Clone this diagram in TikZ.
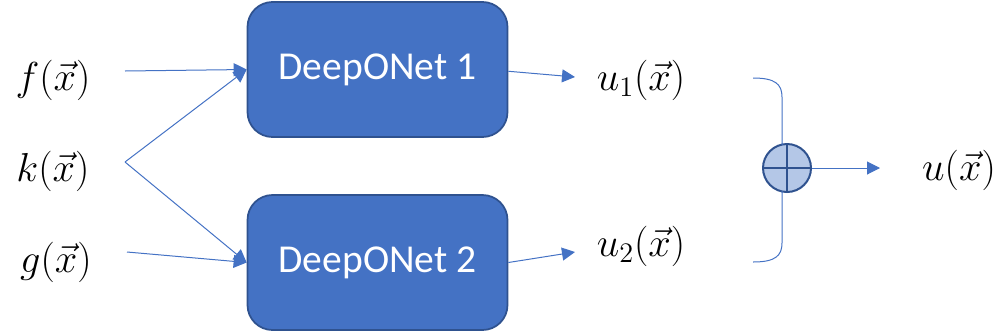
\RequirePackage{fix-cm}
\documentclass[tikz,border=0pt]{standalone}
\usepackage{amsmath}
\usepackage{fontspec}
\newfontfamily\boxfont{Carlito}
\usepackage{tikz}
\usetikzlibrary{calc}
\usetikzlibrary{arrows.meta}
\definecolor{netblue}{HTML}{4472C4}
\definecolor{netedge}{HTML}{2F528F}
\definecolor{sumfill}{HTML}{B4C7E7}

\begin{document}
\begin{tikzpicture}[x=0.2mm, y=-0.2mm,
    net/.style={draw=netedge, line width=0.35mm, fill=netblue, rounded corners=5mm,
        minimum width=52mm, minimum height=27mm, text=white,
        font=\boxfont\fontsize{22.5}{27}\selectfont},
    var/.style={font=\fontsize{23}{27}\selectfont, inner sep=0pt},
    arr/.style={draw=netblue, line width=0.2mm, -{Triangle[length=2.6mm, width=2.6mm]}},
    lien/.style={draw=netblue, line width=0.2mm}]
\useasboundingbox (0,0) rectangle (1002,335);

%%% entrees
\node[var] (f) at (53,80) {$f(\vec{x})$};
\node[var] (k) at (53,171) {$k(\vec{x})$};
\node[var] (g) at (56,262) {$g(\vec{x})$};

%%% reseaux
\node[net] (dn1) at (377.5,69.5) {DeepONet 1};
\node[net] (dn2) at (377.5,262.5) {DeepONet 2};

%%% sorties
\node[var] (u1) at (641,80) {$u_1(\vec{x})$};
\node[var] (u2) at (641,246) {$u_2(\vec{x})$};
\node[var] (u) at (959,170) {$u(\vec{x})$};

%%% somme
\node[draw=netedge, line width=0.4mm, fill=sumfill, circle, minimum size=9.6mm, inner sep=0pt] (sum) at (787,168) {};
\draw[netedge, line width=0.4mm] (sum.north) -- (sum.south);
\draw[netedge, line width=0.4mm] (sum.west) -- (sum.east);

% points de depart
\coordinate (fs) at (125,71);
\coordinate (ks) at (125,162);
\coordinate (gs) at (127,252);
\coordinate (o1) at (575,77);
\coordinate (o2) at (575,252);
\coordinate (ue) at (880,168);

%%% fleches
\draw[arr] (fs) -- (dn1.west);
\draw[arr] (ks) -- (dn1.west);
\draw[arr] (ks) -- (dn2.west);
\draw[arr] (gs) -- (dn2.west);
\draw[arr] ([yshift=-1]dn1.east) -- (o1);
\draw[arr] (dn2.east) -- (o2);
\draw[arr] (sum.east) -- (ue);

%%% accolade
\coordinate (b1) at (753,78);
\coordinate (b2) at (753,262);
\draw[lien] (b1) .. controls (775,78) and (782,84) .. (782,97) -- (782,145);
\draw[lien] (782,191) -- (782,243) .. controls (782,256) and (775,262) .. (b2);
\end{tikzpicture}
\end{document}
